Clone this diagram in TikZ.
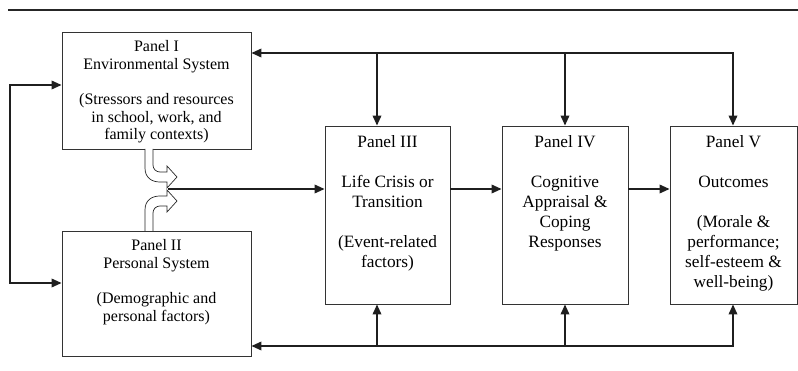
\documentclass[tikz,border=0pt]{standalone}
\usepackage{fontspec}
\setmainfont{Liberation Serif}
\usepackage{tikz}
\usetikzlibrary{arrows.meta,positioning}

\begin{document}
\begin{tikzpicture}[x=1pt,y=-1pt,
                    panel/.style={draw=black!80,line width=0.8pt,inner sep=0pt},
                    lefttext/.style={anchor=north,inner sep=0pt,align=center,
                                     font=\fontsize{16}{17.7}\selectfont},
                    righttext/.style={anchor=north,inner sep=0pt,align=center,
                                      font=\fontsize{17.3}{20}\selectfont},
                    flow/.style={draw=black!88,line width=1.8pt,-{Triangle[length=10pt,width=8.5pt]}},
                    twoway/.style={flow,{Triangle[length=10pt,width=8.5pt]}-{Triangle[length=10pt,width=8.5pt]}},
                    hollow/.style={draw=black!85,line width=0.7pt,fill=white}]
\useasboundingbox (0,0) rectangle (798,371);

% rule on top
\draw[line width=2.2pt,black!85] (8,10) -- (798,10);

% the five panels
\node[panel,minimum width=189pt,minimum height=117pt] (p1) at (156.5,90.5) {};
\node[panel,minimum width=189pt,minimum height=125pt] (p2) at (156.5,293.5) {};
\node[panel,minimum width=125pt,minimum height=178pt] (p3) at (387.5,215) {};
\node[panel,minimum width=126pt,minimum height=178pt] (p4) at (565,215) {};
\node[panel,minimum width=127pt,minimum height=178pt] (p5) at (733.5,215) {};

\node[lefttext] (t1) at ([yshift=-8.5pt]p1.north)
  {Panel I\\Environmental System\\[17.7pt](Stressors and resources\\in school, work, and\\family contexts)};
\node[lefttext] (t2) at ([yshift=-8.5pt]p2.north)
  {Panel II\\Personal System\\[17.7pt](Demographic and\\personal factors)};
\node[righttext] (t3) at ([yshift=-9.5pt]p3.north)
  {Panel III\\[20pt]Life Crisis or\\Transition\\[20pt](Event-related\\factors)};
\node[righttext] (t4) at ([yshift=-9.5pt]p4.north)
  {Panel IV\\[20pt]Cognitive\\Appraisal \&\\Coping\\Responses};
\node[righttext] (t5) at ([yshift=-9.5pt]p5.north)
  {Panel V\\[20pt]Outcomes\\[20pt](Morale \&\\performance;\\self-esteem \&\\well-being)};

% hollow arrows into the merge point
\draw[hollow] (145,149) -- (145,168) .. controls (145,178) and (152,182) .. (160,182)
  -- (167,182) -- (167,188) -- (177,177) -- (167,166) -- (167,172) -- (160,172)
  .. controls (156,172) and (153,169) .. (153,165) -- (153,149);
\draw[hollow] (145,231) -- (145,210) .. controls (145,200) and (152,196) .. (160,196)
  -- (167,196) -- (167,190) -- (177,201) -- (167,212) -- (167,206) -- (160,206)
  .. controls (156,206) and (153,209) .. (153,213) -- (153,231);

\coordinate (merge) at (168,189);
\coordinate (top3) at (377,53);
\coordinate (top5) at (733,53);
\coordinate (bot3) at (377,346);
\coordinate (bot5) at (733,346);
\coordinate (left1) at (10,85);
\coordinate (left2) at (10,283);

% main chain
\draw[flow] (merge) -- (merge -| p3.west);
\draw[flow] (p3.east |- merge) -- (p4.west |- merge);
\draw[flow] (p4.east |- merge) -- (p5.west |- merge);

% feedback on top
\draw[twoway] (top5 -| p1.east) -- (top5) -- (top5 |- p5.north);
\draw[flow] (top5 -| p4.north) -- (p4.north);
\draw[flow] (top3) -- (top3 |- p3.north);

% feedback below
\draw[twoway] (bot5 -| p2.east) -- (bot5) -- (bot5 |- p5.south);
\draw[flow] (bot5 -| p4.south) -- (p4.south);
\draw[flow] (bot3) -- (bot3 |- p3.south);

% link between panels I and II
\draw[twoway] (left1 -| p1.west) -- (left1) -- (left2) -- (left2 -| p2.west);
\end{tikzpicture}
\end{document}
